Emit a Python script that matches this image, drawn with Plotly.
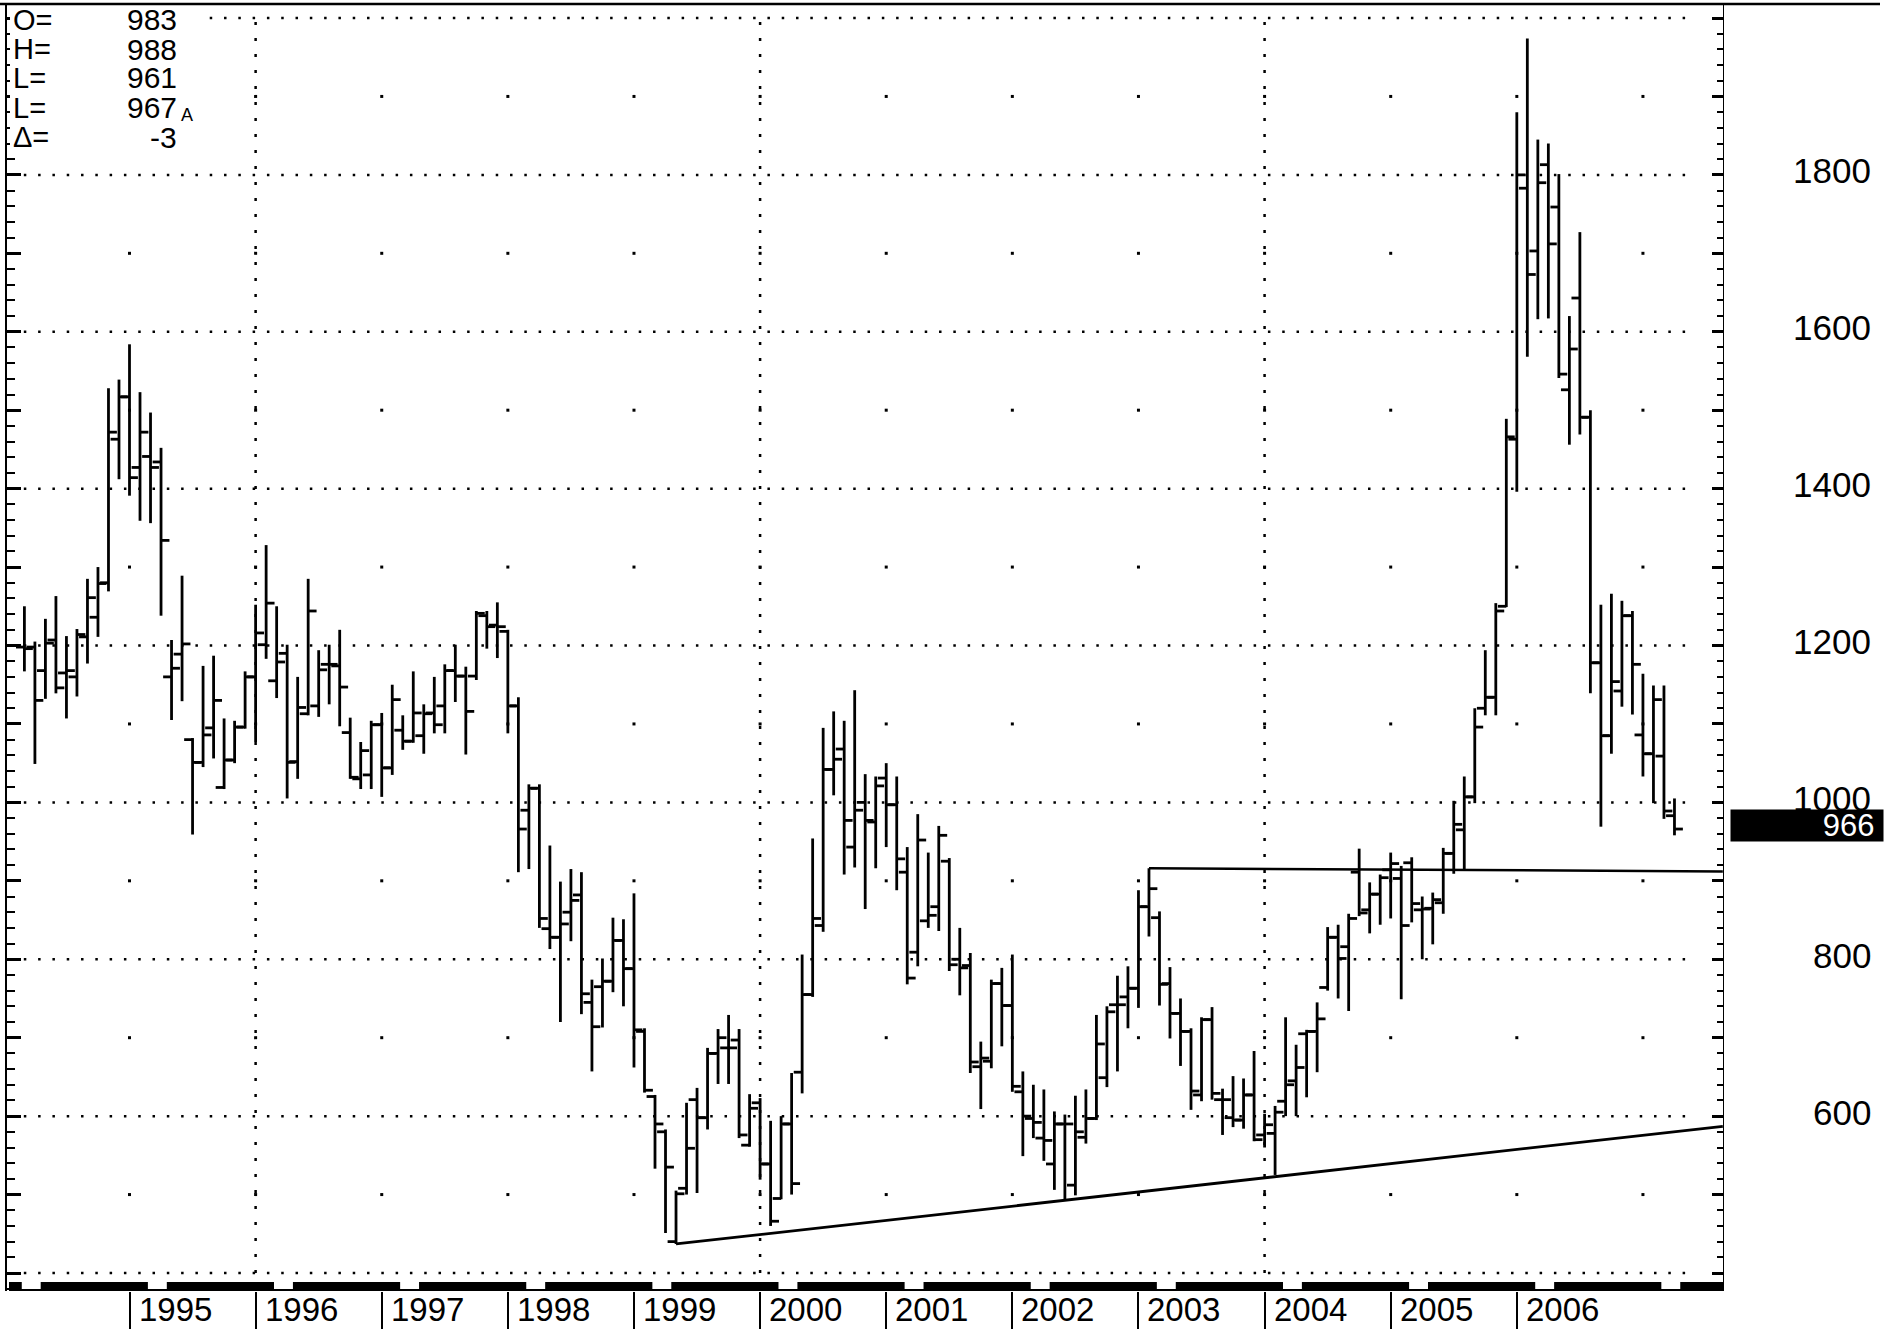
import plotly.graph_objects as go

# ---------------- data (monthly bars, first bar = Mar 1994) ----------------
opens = [1198, 1198, 1168, 1207, 1165, 1160, 1211, 1236, 1280, 1463,
         1517, 1427, 1441, 1434, 1160, 1189, 1080, 1051, 1095, 1019,
         1054, 1096, 1160, 1201, 1155, 1190, 1052, 1113, 1123, 1176,
         1174, 1089, 1030, 1035, 1099, 1044, 1092, 1078, 1085, 1114,
         1123, 1168, 1161, 1161, 1238, 1226, 1218, 1123, 990, 1018,
         839, 828, 860, 882, 745, 765, 772, 824, 788, 708,
         625, 580, 440, 508, 621, 598, 680, 687, 697, 563,
         617, 539, 495, 590, 656, 755, 843, 1042, 1068, 943,
         1000, 975, 1031, 997, 911, 809, 849, 867, 925, 800,
         792, 663, 670, 769, 741, 631, 597, 572, 539, 590,
         512, 573, 597, 649, 742, 752, 763, 867, 853, 769,
         731, 708, 627, 723, 621, 598, 595, 627, 576, 578,
         619, 645, 705, 708, 764, 828, 816, 911, 863, 883,
         914, 903, 923, 863, 865, 872, 935, 965, 1007, 1120,
         1134, 1250, 1463, 1783, 1703, 1813, 1759, 1526, 1643, 1491,
         1178, 1085, 1142, 1238, 1086, 1062, 1059, 983]
highs = [1250, 1205, 1234, 1263, 1212, 1221, 1285, 1300, 1528, 1539,
         1584, 1523, 1497, 1452, 1207, 1289, 1082, 1174, 1187, 1107,
         1104, 1167, 1252, 1328, 1250, 1201, 1160, 1285, 1194, 1201,
         1220, 1108, 1077, 1104, 1114, 1150, 1111, 1167, 1125, 1160,
         1176, 1201, 1173, 1244, 1244, 1255, 1220, 1134, 1023, 1023,
         945, 899, 915, 911, 774, 801, 853, 851, 884, 712,
         627, 583, 505, 617, 636, 687, 711, 729, 711, 628,
         623, 594, 600, 655, 806, 954, 1095, 1116, 1104, 1143,
         1036, 1033, 1050, 1033, 943, 985, 936, 970, 929, 840,
         808, 695, 774, 789, 806, 657, 640, 634, 606, 602,
         626, 634, 729, 740, 779, 791, 888, 916, 861, 790,
         750, 712, 726, 739, 635, 651, 648, 683, 603, 613,
         726, 691, 710, 745, 841, 844, 858, 941, 898, 908,
         936, 919, 930, 880, 885, 942, 1002, 1033, 1120, 1194,
         1254, 1489, 1880, 1974, 1845, 1840, 1801, 1620, 1727, 1500,
         1252, 1266, 1257, 1244, 1164, 1149, 1149, 1005]
lows = [1167, 1049, 1132, 1139, 1107, 1135, 1177, 1211, 1269, 1412,
        1391, 1359, 1356, 1238, 1105, 1129, 959, 1045, 1056, 1017,
        1050, 1094, 1077, 1183, 1133, 1005, 1030, 1111, 1109, 1125,
        1097, 1030, 1017, 1017, 1007, 1035, 1067, 1076, 1062, 1088,
        1088, 1128, 1061, 1156, 1196, 1184, 1088, 911, 915, 840,
        813, 720, 823, 730, 657, 713, 758, 740, 662, 630,
        533, 451, 437, 500, 502, 583, 641, 641, 572, 561,
        519, 460, 494, 500, 629, 752, 835, 1009, 908, 917,
        864, 916, 943, 888, 768, 791, 840, 836, 785, 754,
        655, 609, 661, 689, 631, 549, 572, 543, 506, 494,
        499, 565, 595, 637, 657, 712, 738, 829, 741, 699,
        664, 608, 619, 621, 576, 586, 584, 568, 560, 525,
        600, 600, 624, 656, 760, 750, 734, 855, 833, 844,
        852, 749, 847, 800, 819, 858, 909, 915, 999, 1111,
        1111, 1249, 1396, 1568, 1616, 1617, 1541, 1456, 1469, 1139,
        969, 1062, 1122, 1112, 1033, 999, 979, 958]
closes = [1196, 1130, 1203, 1146, 1168, 1214, 1261, 1279, 1472, 1517,
          1414, 1472, 1427, 1334, 1171, 1202, 1051, 1086, 1130, 1054,
          1096, 1160, 1216, 1254, 1179, 1051, 1121, 1244, 1169, 1176,
          1147, 1032, 1066, 1099, 1044, 1131, 1078, 1114, 1113, 1099,
          1168, 1161, 1116, 1241, 1224, 1224, 1123, 966, 1018, 852,
          828, 845, 875, 756, 714, 772, 824, 788, 710, 633,
          590, 535, 501, 559, 598, 680, 700, 687, 576, 610,
          539, 466, 590, 514, 755, 852, 1042, 1055, 977, 990,
          977, 1021, 997, 928, 776, 952, 856, 958, 793, 789,
          669, 674, 769, 741, 638, 600, 592, 569, 590, 590,
          580, 597, 692, 733, 742, 763, 867, 890, 768, 731,
          708, 632, 723, 629, 621, 595, 627, 570, 589, 605,
          640, 662, 708, 724, 828, 801, 852, 859, 883, 904,
          922, 843, 871, 864, 876, 935, 972, 1007, 1096, 1134,
          1244, 1466, 1800, 1673, 1790, 1712, 1546, 1578, 1491, 1178,
          1085, 1154, 1238, 1176, 1062, 1131, 989, 966]

first_year = 1994
first_month = 3                      # March 1994 is bar 0
year_labels = ["1995", "1996", "1997", "1998", "1999", "2000",
               "2001", "2002", "2003", "2004", "2005", "2006"]
grid_years = [1996, 2000, 2004]      # dotted vertical grid
dot_years = list(range(1995, 2008))  # sparse dot grid
price_labels = [600, 800, 1000, 1200, 1400, 1600, 1800]
grid_prices = [400, 600, 800, 1000, 1200, 1400, 1600, 1800, 2000]
dot_prices = [500, 700, 900, 1100, 1300, 1500, 1700, 1900]
info_names = ["O=", "H=", "L=", "L=", "\u0394="]
info_values = ["983", "988", "961", "967", "-3"]
last_price = 966
support_m = [62, 161.6]
support_v = [437, 587]
resist_m = [107, 161.6]
resist_v = [916, 912]

# ---------------- geometry ----------------
W, H = 1898, 1331
PL, PR, PT, PB = 7, 1723, 4, 1291      # plot area in pixels
MONTH_PX = 10.51
M0_PX = 24.4                           # pixel of bar 0
PX_PER_UNIT = 0.784375
X_RANGE = [(PL - M0_PX) / MONTH_PX, (PR - M0_PX) / MONTH_PX]
Y_RANGE = [2000 - (PB - 18) / PX_PER_UNIT, 2000 + (18 - PT) / PX_PER_UNIT]


def px_x(px):
    return (px - PL) / (PR - PL)


def px_y(py):
    return (PB - py) / (PB - PT)


def month_index(year, month=1):
    return (year - first_year) * 12 + (month - first_month)


FONT = "Liberation Sans, Arial, sans-serif"

# ---------------- bars ----------------
bx, by = [], []
for i, (o, h, l, c) in enumerate(zip(opens, highs, lows, closes)):
    bx += [i, i, None, i - 0.8, i, None, i, i + 0.8, None]
    by += [l, h, None, o, o, None, c, c, None]

fig = go.Figure()
fig.add_trace(go.Scatter(x=bx, y=by, mode="lines",
                         line=dict(color="black", width=2.8),
                         hoverinfo="skip", connectgaps=False))

dx, dy = [], []
for yr in dot_years:
    for p in dot_prices:
        dx.append(month_index(yr))
        dy.append(p)
fig.add_trace(go.Scatter(x=dx, y=dy, mode="markers", yaxis="y2",
                         marker=dict(symbol="square", size=3, color="black"),
                         hoverinfo="skip"))

shapes = []
for p in grid_prices:
    shapes.append(dict(type="line", xref="x", yref="y",
                       x0=X_RANGE[0] + 1.6, x1=X_RANGE[1] - 2.6, y0=p, y1=p,
                       line=dict(color="black", width=2.5, dash="2.5px,11.8px"),
                       layer="below"))
for yr in grid_years:
    m = month_index(yr)
    shapes.append(dict(type="line", xref="x", yref="y",
                       x0=m, x1=m, y0=400, y1=2000,
                       line=dict(color="black", width=2.5, dash="3px,13px"),
                       layer="below"))
# white area behind the info text
shapes.append(dict(type="rect", xref="paper", yref="paper",
                   x0=px_x(10), x1=px_x(200), y0=px_y(152), y1=px_y(8),
                   fillcolor="white", line=dict(width=0), layer="above"))
# time band at the bottom
shapes.append(dict(type="rect", xref="paper", yref="paper",
                   x0=px_x(9), x1=1, y0=0, y1=px_y(1282),
                   fillcolor="black", line=dict(width=0), layer="above"))
for yr in range(first_year, 2008):
    m = month_index(yr)
    shapes.append(dict(type="rect", xref="x", yref="paper",
                       x0=m + 1.75, x1=m + 3.55, y0=px_y(1289), y1=px_y(1281),
                       fillcolor="white", line=dict(width=0), layer="above"))
# top border
shapes.append(dict(type="line", xref="paper", yref="paper",
                   x0=px_x(0), x1=px_x(1880), y0=px_y(4), y1=px_y(4),
                   line=dict(color="black", width=2.5), layer="above"))
# trend lines
shapes.append(dict(type="line", xref="x", yref="y",
                   x0=support_m[0], x1=support_m[1], y0=support_v[0], y1=support_v[1],
                   line=dict(color="black", width=2.8), layer="above"))
shapes.append(dict(type="line", xref="x", yref="y",
                   x0=resist_m[0], x1=resist_m[1], y0=resist_v[0], y1=resist_v[1],
                   line=dict(color="black", width=2.5), layer="above"))

ann = []
for p in price_labels:
    ann.append(dict(xref="paper", yref="y", x=px_x(1873), y=p, text=str(p),
                    xanchor="right", yanchor="middle", yshift=4, showarrow=False,
                    font=dict(family=FONT, size=35, color="black")))
ann.append(dict(xref="paper", yref="y", x=px_x(1730), y=last_price,
                text=str(last_price) + "\u00a0", xanchor="left", yanchor="middle",
                yshift=4, showarrow=False, width=152, height=31, borderpad=0,
                align="right", bgcolor="black",
                font=dict(family=FONT, size=31, color="white")))
for lab in year_labels:
    ann.append(dict(xref="x", yref="paper", x=month_index(int(lab)), y=px_y(1309),
                    text=lab, xanchor="left", yanchor="middle", xshift=7,
                    showarrow=False, font=dict(family=FONT, size=33, color="black")))
rows = [20, 49, 78, 108, 137]
for name, val, py in zip(info_names, info_values, rows):
    ann.append(dict(xref="paper", yref="paper", x=px_x(11), y=px_y(py), text=name,
                    xanchor="left", yanchor="middle", showarrow=False,
                    font=dict(family=FONT, size=29, color="black")))
    ann.append(dict(xref="paper", yref="paper", x=px_x(179), y=px_y(py), text=val,
                    xanchor="right", yanchor="middle", showarrow=False,
                    font=dict(family=FONT, size=30, color="black")))
ann.append(dict(xref="paper", yref="paper", x=px_x(179), y=px_y(115), text="A",
                xanchor="left", yanchor="middle", showarrow=False,
                font=dict(family=FONT, size=18, color="black")))

fig.update_layout(
    width=W, height=H, template="none",
    margin=dict(l=PL, r=W - PR, t=PT, b=H - PB, pad=0, autoexpand=False),
    paper_bgcolor="white", plot_bgcolor="white", showlegend=False,
    font=dict(family=FONT, color="black"),
    xaxis=dict(range=X_RANGE, showgrid=False, zeroline=False, showline=False,
               tickmode="array", tickvals=[month_index(int(y)) for y in year_labels],
               ticks="outside", ticklen=37, tickwidth=2, tickcolor="black",
               showticklabels=False, automargin=False, fixedrange=True),
    yaxis=dict(range=Y_RANGE, side="right", showgrid=False, zeroline=False,
               showline=True, linecolor="black", linewidth=1,
               tickmode="linear", tick0=0, dtick=100, ticks="inside",
               ticklen=11, tickwidth=2.5, tickcolor="black",
               showticklabels=False, automargin=False, fixedrange=True,
               minor=dict(ticks="inside", tick0=0, dtick=20, ticklen=6,
                          tickwidth=1.5, tickcolor="black", showgrid=False)),
    yaxis2=dict(range=Y_RANGE, overlaying="y", side="left", anchor="x",
                showgrid=False, zeroline=False, showline=True,
                linecolor="black", linewidth=2,
                tickmode="linear", tick0=0, dtick=100, ticks="inside",
                ticklen=14, tickwidth=2.5, tickcolor="black",
                showticklabels=False, automargin=False, fixedrange=True,
                minor=dict(ticks="inside", tick0=0, dtick=20, ticklen=8,
                           tickwidth=1.5, tickcolor="black", showgrid=False)),
    shapes=shapes, annotations=ann,
)

fig.write_html(
    "out.html",
    config={"displayModeBar": False},
    post_script="document.body.style.margin='0';"
                "document.documentElement.style.overflow='hidden';",
)
